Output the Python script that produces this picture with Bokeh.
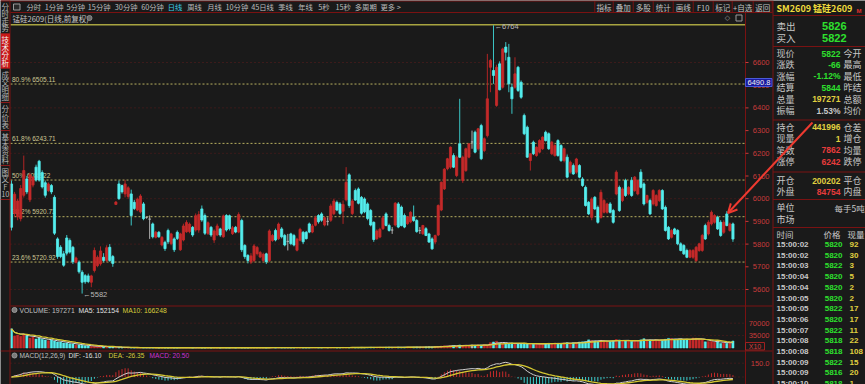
import numpy as np
import pandas as pd
from bokeh.plotting import figure
from bokeh.models import Range1d, ColumnDataSource, Arrow, OpenHead
from bokeh.core.properties import value
from bokeh.embed import file_html
from bokeh.resources import INLINE

# ---------------- data ----------------
opens = [6065,5935,5920,5912,6015,6087,5995,6060,6139,6165,6115,6070,6036,6058,6006,5823,5786,5757,5827,5816,
         5786,5720,5720,5676,5661,5660,5632,5684,5705,5713,5742,5728,5786,5745,5975,6065,6058,6021,6010,6021,
         5984,5950,5942,5977,5918,5910,5889,5830,5852,5796,5808,5860,5802,5823,5852,5775,5818,5854,5855,5874,
         5862,5862,5955,5926,5847,5874,5818,5840,5867,5832,5926,5925,5846,5874,5853,5904,5794,5750,5721,5728,
         5758,5743,5728,5757,5728,5816,5860,5824,5867,5838,5812,5845,5838,5773,5817,5852,5852,5889,5853,5883,
         5926,5933,5884,5900,5905,5934,5984,5977,5945,5995,6105,5935,6036,6043,6006,5999,5977,5948,5896,5824,
         5831,5868,5933,5882,5862,5884,5977,5963,5926,5890,5898,5919,5904,5860,5846,5868,5845,5823,5809,5840,
         5950,6043,6132,6139,6190,6102,6242,6080,6124,6183,6250,6293,6220,6322,6212,6278,6579,6565,6411,6594,
         6491,6668,6623,6491,6491,6579,6513,6367,6315,6168,6249,6190,6205,6220,6293,6286,6198,6190,6256,6234,
         6168,6183,6117,6146,6117,6146,6087,6050,5984,5918,6006,5962,5918,5940,5940,5977,5948,6021,6050,5992,
         6080,6021,6080,6036,6021,6117,6065,5984,5992,5977,5970,5992,6036,5962,5874,5830,5867,5860,5801,5794,
         5772,5742,5742,5727,5772,5772,5882,5845,5889,5896,5918,5896,5852,5933,5860,5889]
highs = [6080,6030,6000,6060,6190,6100,6115,6100,6150,6171,6125,6080,6072,6065,6015,5830,5795,5770,5840,5825,
         5792,5745,5728,5685,5668,5670,5665,5785,5750,5790,5760,5795,5800,5752,5990,6080,6062,6083,6055,6040,
         5995,6005,6020,5985,5922,5926,5895,5858,5858,5835,5815,5868,5850,5830,5860,5850,5890,5905,5895,5880,
         5935,5945,5970,5935,5900,5880,5865,5890,5872,5930,5932,5930,5880,5880,5940,5912,5800,5756,5760,5800,
         5792,5770,5762,5762,5865,5845,5868,5895,5875,5845,5845,5850,5845,5828,5872,5858,5858,5895,5888,5925,
         5932,5940,5922,5918,5978,6000,5992,5985,5992,6139,6112,5998,6045,6050,6012,6006,5984,5955,5900,5865,
         5872,5925,5940,5890,5875,5985,5985,5970,5935,5922,5945,5970,5910,5875,5885,5875,5850,5830,5842,5975,
         6075,6135,6180,6230,6200,6190,6440,6190,6225,6245,6300,6300,6312,6330,6270,6638,6616,6764,6590,6605,
         6665,6690,6682,6506,6623,6585,6521,6375,6322,6200,6256,6230,6262,6275,6300,6292,6255,6240,6262,6240,
         6225,6195,6168,6155,6180,6152,6095,6058,5990,6006,6012,5970,6040,5998,5982,5985,5955,6125,6058,6050,
         6088,6055,6095,6100,6085,6130,6072,6018,6000,6042,6020,6042,6042,5970,5880,5866,5872,5866,5808,5800,
         5780,5778,5778,5792,5806,5845,5890,5905,5948,5932,5925,5905,5905,5945,5895,5895]
lows = [5860,5920,5905,5900,6005,6020,5985,6050,6075,6075,6045,6005,6030,6020,5840,5735,5738,5700,5750,5758,
        5712,5715,5670,5582,5625,5628,5610,5675,5698,5705,5720,5720,5722,5700,5972,5995,6022,6006,6000,5882,
        5950,5945,5935,5905,5912,5823,5825,5825,5828,5790,5770,5800,5795,5765,5818,5770,5812,5850,5848,5832,
        5855,5850,5898,5840,5840,5832,5805,5835,5832,5828,5855,5860,5840,5848,5848,5765,5735,5715,5712,5720,
        5750,5738,5720,5712,5720,5810,5812,5818,5825,5790,5772,5795,5790,5768,5812,5800,5820,5848,5848,5878,
        5890,5898,5878,5882,5898,5928,5945,5928,5889,5988,5960,5928,5990,5975,5930,5936,5905,5878,5810,5818,
        5826,5862,5878,5855,5845,5878,5870,5878,5870,5885,5892,5898,5850,5845,5840,5835,5805,5775,5800,5835,
        5945,6038,6125,6132,6135,6095,6180,6070,6118,6178,6220,6200,6212,6170,6205,6270,6469,6506,6405,6477,
        6485,6609,6469,6374,6484,6470,6440,6280,6180,6124,6192,6185,6200,6215,6252,6215,6192,6185,6185,6162,
        6160,6090,6110,6105,6110,6090,6052,5965,5928,5905,5950,5890,5912,5935,5934,5935,5890,6015,5942,5985,
        6008,6015,6008,6030,6015,6045,5970,5978,5928,5970,5965,5985,5950,5855,5818,5825,5840,5795,5768,5752,
        5738,5738,5735,5722,5766,5766,5818,5838,5882,5890,5862,5832,5845,5878,5855,5810]
closes = [5874,6020,5990,6045,6124,6030,6105,6095,6082,6082,6052,6015,6065,6030,5848,5745,5745,5707,5760,5765,
          5722,5739,5678,5632,5634,5635,5660,5772,5742,5770,5728,5784,5728,5715,5985,6000,6030,6065,6048,5926,
          5957,5998,6012,5912,5918,5910,5832,5852,5832,5830,5780,5810,5845,5775,5825,5845,5880,5895,5888,5840,
          5925,5930,5906,5848,5894,5840,5858,5880,5840,5924,5862,5868,5872,5853,5930,5775,5745,5728,5748,5792,
          5785,5763,5755,5722,5858,5838,5818,5888,5832,5796,5812,5802,5796,5822,5865,5810,5824,5853,5880,5916,
          5898,5905,5916,5900,5968,5990,5950,5935,5975,6072,5970,5990,5994,5980,5936,5942,5913,5884,5820,5858,
          5865,5916,5882,5860,5862,5980,5875,5882,5875,5919,5940,5904,5855,5860,5882,5838,5809,5779,5838,5970,
          6073,6130,6176,6227,6139,6183,6183,6183,6220,6242,6250,6205,6308,6176,6264,6440,6609,6543,6579,6480,
          6660,6645,6506,6440,6550,6477,6447,6286,6183,6198,6198,6227,6256,6271,6256,6220,6249,6234,6190,6168,
          6220,6095,6161,6109,6175,6095,6058,5970,5933,5999,5955,5896,6028,5992,5977,5940,5896,6117,5948,6043,
          6014,6050,6014,6095,6080,6050,5977,6014,5933,6036,6014,6036,5955,5860,5823,5860,5845,5801,5772,5757,
          5742,5772,5772,5786,5801,5838,5823,5896,5940,5926,5867,5838,5896,5882,5889,5822]
volumes = [540000,340000,365000,330000,395000,345000,280000,310000,255000,285000,250000,228000,205000,226000,
           196000,172000,168000,142000,138000,118000,112000,88000,84000,78000,62000,56000,48000,46000,40000,
           42000,36000,33000,30000,28000,
           15000,11000,9000,12000,8000,10000,7000,9000,6500,8000,
           7500,6000,9000,5500,7000,6000,8500,5000,6500,7000,
           5500,6000,8000,5000,7500,6500,5500,9000,6000,7000,
           5000,6500,8000,6000,5500,7000,9500,6000,7500,5500,
           6500,8000,7000,6000,10000,7500,6500,8500,7000,9000,
           6000,11000,8000,7000,9500,8500,10000,7500,9000,12000,
           8000,10500,9000,11000,13000,9500,12000,10000,14000,11000,
           12500,15000,11000,13500,16000,12000,14000,17000,13000,15500,
           18000,14000,16500,19000,15000,17500,21000,16000,19000,22000,
           18000,20000,24000,19000,22000,26000,21000,24000,28000,23000,26000,
           30000,34000,29000,38000,42000,55000,62000,58000,66000,70000,64000,85000,72000,78000,74000,
           82000,76000,88000,80000,
           92000,84000,150000,170000,190000,140000,120000,135000,118000,142000,110000,125000,128000,
           135000,115000,122000,108000,118000,112000,126000,120000,132000,124000,138000,130000,128000,
           142000,150000,136000,148000,
           155000,168000,175000,182000,230000,210000,196000,188000,215000,205000,192000,186000,200000,
           240000,225000,210000,198000,205000,190000,214000,208000,230000,262000,218000,225000,212000,
           236000,228000,220000,245000,270000,268000,250000,242000,258000,236000,248000,232000,280000,
           275000,255000,245000,
           175000,182000,190000,168000,186710,128000,150000,132000,153499,197271]

price_ticks = [5600, 5700, 5800, 5900, 6000, 6100, 6200, 6300, 6400, 6500, 6600]
grid_levels = [5600, 5800, 6000, 6200, 6400, 6600]
fib_pcts = ["23.6%", "38.2%", "50%", "61.8%", "80.9%"]
fib_vals = [5720.92, 5920.73, 6082.22, 6243.71, 6505.11]
fib_top = 6766.50
vol_ticks = [350000, 700000]
vol_tick_labels = ["35000", "70000"]
macd_ticks = [0.0, 150.0]
macd_tick_labels = ["", "150.0"]

tabs = ["分时", "1分钟", "5分钟", "15分钟", "30分钟", "60分钟", "日线", "周线", "月线", "10分钟",
        "45日线", "季线", "年线", "5秒", "15秒", "多周期", "更多 >"]
buttons = ["指标", "叠加", "多股", "统计", "画线", "F10", "标记", "+自选", "返回"]
side_tabs = ["分时走势", "技术分析", "成交明细", "分价表", "基本资料", "图文F10"]

quote_l = ["现价", "涨跌", "涨幅", "结算", "总量", "振幅"]
quote_v = ["5822", "-66", "-1.12%", "5844", "197271", "1.53%"]
quote_r = ["今开", "最高", "最低", "昨结", "总额", "均价"]
pos_l = ["持仓", "现量", "笔数", "涨停"]
pos_v = ["441996", "1", "7862", "6242"]
pos_r = ["仓差", "增仓", "均量", "跌停"]
oc_l = ["开仓", "外盘"]
oc_v = ["200202", "84754"]
oc_r = ["平仓", "内盘"]
trade_times = ["15:00:02", "15:00:02", "15:00:03", "15:00:04", "15:00:04", "15:00:05", "15:00:05",
               "15:00:06", "15:00:07", "15:00:08", "15:00:08", "15:00:09", "15:00:09", "15:00:10"]
trade_prices = ["5820", "5820", "5822", "5820", "5820", "5820", "5822", "5820", "5822", "5818",
                "5818", "5822", "5816", "5818"]
trade_vols = ["92", "30", "3", "5", "2", "2", "17", "17", "11", "22", "108", "15", "20", "1"]

# ---------------- styling / layout ----------------
W, H = 865, 384
BG = "#1a1a1a"
RED_LINE = "#7a1212"
GRID = "#5e1c1c"
UP = "#c42a2a"
DOWN = "#54eeee"
FLAT = "#b0b0b0"
GREEN = "#2ee02e"
YEL = "#e0d040"
VRED = "#e83c3c"
LG = "#c8c8c8"
CJK = value("Noto Sans CJK SC")
NUM = value("Liberation Sans")

p = figure(width=W, height=H, output_backend="svg", toolbar_location=None,
           x_range=Range1d(0, W), y_range=Range1d(H, 0),
           x_axis_location=None, y_axis_location=None, min_border=0,
           background_fill_color=BG, border_fill_color=BG, outline_line_color=None)
p.grid.visible = False

STEP, X0 = 3.07, 11.0
PX = 0.227                      # px per price unit
VK = 12.4 / 350000.0            # px per volume unit
MK = 13.8 / 150.0               # px per macd unit
p.extra_x_ranges = {"idx": Range1d(-X0 / STEP, (W - X0) / STEP)}
p.extra_y_ranges = {
    "price": Range1d(6600 - (H - 62) / PX, 6600 + 62 / PX),
    "vol": Range1d(-(H - 347.5) / VK, 347.5 / VK),
    "macd": Range1d(-(H - 376.5) / MK, 376.5 / MK),
}

CL, CR = 10, 745   # chart left/right pixel


def txt(xs, ys, texts, color, size, font=CJK, align="left", baseline="middle", bold=False,
        xr="default", yr="default", xo=0, yo=0):
    src = ColumnDataSource(dict(x=list(xs), y=list(ys), t=list(texts)))
    p.text(x="x", y="y", text="t", source=src, text_color=color, text_font=font,
           text_font_size=f"{size}px", text_align=align, text_baseline=baseline,
           text_font_style="bold" if bold else "normal", x_range_name=xr, y_range_name=yr,
           x_offset=xo, y_offset=yo)


# ---------------- price panel grid & fib ----------------
n = len(closes)
p.segment(x0=[CL] * len(grid_levels), x1=[CR] * len(grid_levels), y0=grid_levels, y1=grid_levels,
          y_range_name="price", line_color=GRID, line_dash="1 3", line_width=1)
p.segment(x0=[CL] * len(fib_vals), x1=[CR] * len(fib_vals), y0=fib_vals, y1=fib_vals,
          y_range_name="price", line_color="#b8b060", line_dash="2 2", line_width=1)
p.segment(x0=[CL], x1=[CR], y0=[fib_top], y1=[fib_top], y_range_name="price",
          line_color="#a8a440", line_width=1.5)
txt([CL + 1.5] * len(fib_vals), fib_vals, [f"{a} {b:.2f}" for a, b in zip(fib_pcts, fib_vals)],
    "#cfc894", 6.5, font=NUM, baseline="bottom", yr="price", yo=-1.5)

# ---------------- candles ----------------
idx = list(range(n))
btop = [max(o, c) for o, c in zip(opens, closes)]
bbot = [min(o, c) for o, c in zip(opens, closes)]
col = [UP if c > o else (DOWN if c < o else FLAT) for o, c in zip(opens, closes)]
wcol = ["#b02424" if c > o else ("#3cc6c6" if c < o else FLAT) for o, c in zip(opens, closes)]
cs = ColumnDataSource(dict(i=idx, o=opens, h=highs, l=lows, c=closes, bt=btop, bb=bbot,
                           col=col, wcol=wcol, v=volumes))
p.segment(x0="i", x1="i", y0="h", y1="l", line_color="wcol", line_width=1, source=cs,
          x_range_name="idx", y_range_name="price")
p.vbar(x="i", width=0.7, top="bt", bottom="bb", fill_color="col", line_color="col",
       line_width=0.8, source=cs, x_range_name="idx", y_range_name="price")

imax = int(np.argmax(highs))
imin = int(np.argmin(lows))
txt([imax], [highs[imax]], [f"←{highs[imax]}"], "#b8b8b8", 7.5, font=NUM, xr="idx", yr="price",
    xo=1, yo=1.5)
txt([imin], [lows[imin]], [f"←{lows[imin]}"], "#b8b8b8", 7.5, font=NUM, xr="idx", yr="price",
    xo=1, yo=1)

# ---------------- volume panel ----------------
vs = pd.Series(volumes, dtype=float)
ma5 = vs.rolling(5, min_periods=1).mean()
ma10 = vs.rolling(10, min_periods=1).mean()
p.segment(x0=[CL] * 2, x1=[CR] * 2, y0=vol_ticks, y1=vol_ticks, y_range_name="vol",
          line_color=GRID, line_dash="1 3")
p.vbar(x="i", width=0.7, top="v", bottom=0, fill_color="col", line_color="col", line_width=0.5,
       source=cs, x_range_name="idx", y_range_name="vol")
p.line(idx, ma5.tolist(), line_color="#d8d8d8", line_width=1, x_range_name="idx", y_range_name="vol")
p.line(idx, ma10.tolist(), line_color="#d6c832", line_width=1.3, x_range_name="idx", y_range_name="vol")

# ---------------- macd panel ----------------
cser = pd.Series(closes, dtype=float)
dif = cser.ewm(span=12, adjust=False).mean() - cser.ewm(span=26, adjust=False).mean()
dea = dif.ewm(span=9, adjust=False).mean()
hist = 2 * (dif - dea)
p.segment(x0=[CL] * 2, x1=[CR] * 2, y0=macd_ticks, y1=macd_ticks, y_range_name="macd",
          line_color=GRID, line_dash="1 3")
hcol = [UP if v >= 0 else "#3cd0d0" for v in hist]
p.segment(x0=idx, x1=idx, y0=[0] * n, y1=hist.tolist(), line_color=hcol, line_width=1,
          x_range_name="idx", y_range_name="macd")
p.line(idx, dif.tolist(), line_color="#cfcfcf", line_width=1, x_range_name="idx", y_range_name="macd")
p.line(idx, dea.tolist(), line_color="#d6c832", line_width=1.3, x_range_name="idx", y_range_name="macd")

# ---------------- frame lines ----------------
p.segment(x0=[0, CL, CL, 0], x1=[772, 772, 772, 772], y0=[0.5, 12, 305.5, 350.5],
          y1=[0.5, 12, 305.5, 350.5], line_color=RED_LINE, line_width=1)
p.segment(x0=[9.5, CR, 772.5], x1=[9.5, CR, 772.5], y0=[0, 12, 0], y1=[H, H, H],
          line_color=RED_LINE, line_width=1)

# price axis labels
txt([769] * len(price_ticks), price_ticks, [str(t) for t in price_ticks], "#c83a3a", 7.5,
    font=NUM, align="right", yr="price")
p.segment(x0=[CR] * len(price_ticks), x1=[CR + 3] * len(price_ticks), y0=price_ticks, y1=price_ticks,
          y_range_name="price", line_color="#c83a3a")
txt([769] * 2, vol_ticks, vol_tick_labels, "#c83a3a", 7.5, font=NUM, align="right", yr="vol")
txt([769], macd_ticks[1:], macd_tick_labels[1:], "#c83a3a", 7.5, font=NUM, align="right", yr="macd")
# crosshair price box and X10 box
p.quad(left=[745], right=[771.5], top=[78], bottom=[86], fill_color="#1a1aa0", line_color="#4a5ad8")
txt([758.5], [82], ["6490.8"], "#f0f0f0", 7.5, font=NUM, align="center")
p.quad(left=[745], right=[764], top=[342], bottom=[349.5], fill_color=BG, line_color="#a02020")
txt([754.5], [345.8], ["X10"], "#d83c3c", 7, font=NUM, align="center")

# ---------------- headers ----------------
p.circle(x=[14], y=[309.5], radius=2.5, fill_color="#7a7a7a", line_color="#9a9a9a")
txt([19], [309.5], ["VOLUME: 197271"], "#c0c0c0", 6.8, font=NUM)
txt([78], [309.5], ["MA5: 152154"], "#e0e0e0", 6.8, font=NUM)
txt([122], [309.5], ["MA10: 166248"], "#d8cc3a", 6.8, font=NUM)
p.circle(x=[14], y=[355], radius=2.5, fill_color="#7a7a7a", line_color="#9a9a9a")
txt([19], [355], ["MACD(12,26,9)"], "#c0c0c0", 6.6, font=NUM)
txt([68], [355], ["DIF: -16.10"], "#e0e0e0", 6.6, font=NUM)
txt([108], [355], ["DEA: -26.35"], "#d8cc3a", 6.6, font=NUM)
txt([149], [355], ["MACD: 20.50"], "#d030d0", 6.6, font=NUM)

# title row
txt([12], [17.5], ["锰硅2609(日线,前复权)"], "#c4c4c4", 7.5)
p.circle(x=[89], y=[17.5], radius=2.5, fill_color="#6a6a6a", line_color="#8a8a8a")
txt([727], [17.5], ["◇"], "#9a9a9a", 7, font=value("DejaVu Sans"), align="center")
p.quad(left=[735.5], right=[741.5], top=[14.5], bottom=[20.5], fill_color=BG, line_color="#9a9a9a")

# top tabs
tab_x = [26, 44.3, 66, 87.3, 114.3, 140.7, 167.3, 186.7, 206.7, 225, 250.7, 277.7, 297.7, 317.7,
         335, 354.3, 380]
tab_c = ["#3ccce8" if t == "日线" else "#bcbcbc" for t in tabs]
src = ColumnDataSource(dict(x=tab_x, y=[6.5] * len(tabs), t=tabs, c=tab_c))
p.text(x="x", y="y", text="t", text_color="c", source=src, text_font=CJK, text_font_size="7.3px",
       text_baseline="middle")
p.quad(left=[13], right=[19.5], top=[3.5], bottom=[9.5], fill_color="#2a2a2a", line_color="#9a9a9a")

# buttons
bedges = [594.3, 612.7, 632.7, 652.7, 672.7, 692.7, 712.7, 731.7, 752.7, 771.7]
p.segment(x0=bedges, x1=bedges, y0=[0.5] * len(bedges), y1=[12] * len(bedges), line_color=RED_LINE)
bcx = [(a + b) / 2 for a, b in zip(bedges[:-1], bedges[1:])]
txt(bcx, [6.5] * len(buttons), buttons, "#c4c4c4", 7.5, align="center")

# left vertical strip
cell_edges = [0, 33, 68, 102, 130, 165, 199]
p.quad(left=[0], right=[9.5], top=[33], bottom=[68], fill_color="#c81818", line_color=None)
p.segment(x0=[0] * len(cell_edges), x1=[9.5] * len(cell_edges), y0=cell_edges, y1=cell_edges,
          line_color="#8a1a1a")
for k, lab in enumerate(side_tabs):
    chars = list(lab) if lab != "图文F10" else ["图", "文", "F", "10"]
    top, bot = cell_edges[k] + 2, cell_edges[k + 1] - 2
    stepc = (bot - top) / len(chars)
    ys = [top + stepc * (j + 0.5) for j in range(len(chars))]
    txt([4.8] * len(chars), ys, chars, "#f4f4f4" if k == 1 else "#b4b4b4", 7.5, align="center")

# ---------------- right info panel ----------------
p.segment(x0=[772.5] * 6, x1=[W] * 6, y0=[15, 46, 119.5, 171.5, 199, 227],
          y1=[15, 46, 119.5, 171.5, 199, 227], line_color=RED_LINE)
txt([776], [7.5], ["SM2609 锰硅2609"], "#f0dc3c", 9, bold=True)
txt([856], [10.5], ["M"], "#e03030", 6, font=NUM, bold=True)
txt([776, 776], [25.5, 37], ["卖出", "买入"], LG, 9.5)
txt([846, 846], [25.5, 37], ["5826", "5822"], GREEN, 11, font=NUM, bold=True, align="right")

qy = [53, 64.3, 75.7, 87, 98.5, 110]
txt([776] * 6, qy, quote_l, LG, 9)
for yy, v, c in zip(qy, quote_v, [GREEN, GREEN, GREEN, GREEN, YEL, LG]):
    txt([840], [yy], [v], c, 8.5, font=NUM, bold=True, align="right")
txt([843] * 6, qy, quote_r, LG, 9)

py = [126.7, 138, 149.7, 161]
txt([776] * 4, py, pos_l, LG, 9)
for yy, v, c in zip(py, pos_v, [YEL, YEL, VRED, VRED]):
    txt([840], [yy], [v], c, 8.5, font=NUM, bold=True, align="right")
txt([843] * 4, py, pos_r, LG, 9)

oy = [180, 191.3]
txt([776] * 2, oy, oc_l, LG, 9)
for yy, v, c in zip(oy, oc_v, [YEL, VRED]):
    txt([840], [yy], [v], c, 8.5, font=NUM, bold=True, align="right")
txt([843] * 2, oy, oc_r, LG, 9)

txt([776, 776], [207, 219], ["单位", "市场"], LG, 9)
txt([834], [207], ["每手5吨"], LG, 8.5)
txt([776, 823, 847], [233] * 3, ["时间", "价格", "现量"], LG, 8.5)
ty = [244 + 10.7 * k for k in range(len(trade_times))]
txt([776] * len(ty), ty, trade_times, LG, 8, font=NUM, bold=True)
txt([842] * len(ty), ty, trade_prices, GREEN, 8, font=NUM, bold=True, align="right")
txt([849] * len(ty), ty, trade_vols, YEL, 8, font=NUM, bold=True)

# annotation arrow
p.add_layout(Arrow(x_start=812, y_start=122, x_end=727.5, y_end=212.5, line_color="#ee3a30",
                   line_width=2, end=OpenHead(size=9, line_color="#ee3a30", line_width=2)))

open("out.html", "w").write(file_html(p, INLINE))
